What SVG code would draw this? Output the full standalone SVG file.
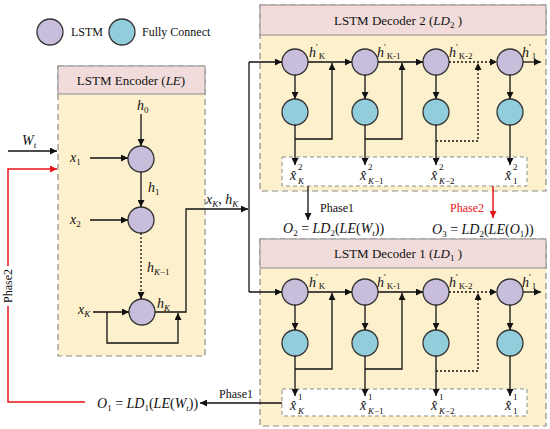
<svg xmlns="http://www.w3.org/2000/svg" width="550" height="429" viewBox="0 0 550 429">
<defs>
<marker id="a" viewBox="0 0 10 10" refX="10" refY="5" markerWidth="9" markerHeight="7" markerUnits="userSpaceOnUse" orient="auto"><path d="M0,0 L10,5 L0,10 z" fill="#111"/></marker>
<marker id="r" viewBox="0 0 10 10" refX="10" refY="5" markerWidth="9" markerHeight="7" markerUnits="userSpaceOnUse" orient="auto"><path d="M0,0 L10,5 L0,10 z" fill="#e8141a"/></marker>
<style>
text{font-family:"Liberation Serif","Times New Roman",serif;fill:#111}
.i{font-style:italic}
.s{font-size:9px}
.n{font-style:normal}
.hdr{font-size:13px}
.lg{font-size:12px}
.ph{font-size:12px}
.eq{font-size:14px}
.lb{font-size:14px}
.lstm{fill:#c8bedc;stroke:#333;stroke-width:1.3}
.fc{fill:#92cddc;stroke:#333;stroke-width:1.3}
.body{fill:#fdf0cc;stroke:#8c8c8c;stroke-width:1.2;stroke-dasharray:6,4}
.head{fill:#f2dcdb;stroke:#8c8c8c;stroke-width:1}
.out{fill:#fff;stroke:#8c8c8c;stroke-width:1;stroke-dasharray:4,3}
.ln{fill:none;stroke:#111;stroke-width:1.3}
.dt{fill:none;stroke:#111;stroke-width:1.3;stroke-dasharray:2,2}
.rd{fill:none;stroke:#e8141a;stroke-width:1.5}
</style>
</defs>

<g id="legend">
<circle class="lstm" cx="50" cy="32" r="13"/>
<text class="lg" x="71" y="36">LSTM</text>
<circle class="fc" cx="122" cy="32" r="13"/>
<text class="lg" x="142" y="36">Fully Connect</text>
</g>

<g id="encoder">
<rect class="body" x="58" y="66" width="147" height="290"/>
<rect class="head" x="58" y="66" width="147" height="28"/>
<text class="hdr" x="131" y="85" text-anchor="middle">LSTM Encoder (<tspan class="i">LE</tspan>)</text>
<circle class="lstm" cx="141" cy="159" r="13"/>
<circle class="lstm" cx="141" cy="220" r="13"/>
<circle class="lstm" cx="142" cy="312" r="13"/>
<text class="lb i" x="137" y="110">h<tspan class="s n" dy="3">0</tspan></text>
<text class="lb i" x="70" y="162">x<tspan class="s n" dy="3">1</tspan></text>
<text class="lb i" x="148" y="192">h<tspan class="s n" dy="3">1</tspan></text>
<text class="lb i" x="70" y="224">x<tspan class="s n" dy="3">2</tspan></text>
<text class="lb i" x="147" y="272">h<tspan class="s" dy="3">K</tspan><tspan class="s n">−1</tspan></text>
<text class="lb i" x="78" y="314">x<tspan class="s" dy="3">K</tspan></text>
<text class="lb i" x="157" y="308">h<tspan class="s" dy="3">K</tspan></text>
</g>

<g id="decoder2">
<rect class="body" x="260" y="5" width="286" height="186"/>
<rect class="head" x="260" y="5" width="286" height="30"/>
<text class="hdr" x="398" y="25" text-anchor="middle">LSTM Decoder 2 (<tspan class="i">LD</tspan><tspan class="s" dy="3">2</tspan><tspan dy="-3"> )</tspan></text>
<circle class="lstm" cx="295" cy="62" r="13"/>
<circle class="lstm" cx="365" cy="62" r="13"/>
<circle class="lstm" cx="436" cy="62" r="13"/>
<circle class="lstm" cx="510" cy="62" r="13"/>
<circle class="fc" cx="295" cy="112" r="13"/>
<circle class="fc" cx="365" cy="112" r="13"/>
<circle class="fc" cx="436" cy="112" r="13"/>
<circle class="fc" cx="510" cy="112" r="13"/>
<rect class="out" x="282" y="157" width="245" height="29"/>
<text class="lb i" x="309" y="57">h<tspan class="s n" dy="-7">'</tspan><tspan class="s n" dx="1" dy="9">K</tspan></text>
<text class="lb i" x="377" y="57">h<tspan class="s n" dy="-7">'</tspan><tspan class="s n" dx="1" dy="9">K-1</tspan></text>
<text class="lb i" x="449" y="57">h<tspan class="s n" dy="-7">'</tspan><tspan class="s n" dx="1" dy="9">K-2</tspan></text>
<text class="lb i" x="522" y="57">h<tspan class="s n" dy="-7">'</tspan><tspan class="s n" dx="1" dy="9">1</tspan></text>
<text class="lb i" x="290" y="180">x̂</text><text class="s" x="298" y="170">2</text><text class="s i" x="298" y="184">K</text>
<text class="lb i" x="360" y="180">x̂</text><text class="s" x="368" y="170">2</text><text class="s i" x="368" y="184">K<tspan class="n">−1</tspan></text>
<text class="lb i" x="431" y="180">x̂</text><text class="s" x="439" y="170">2</text><text class="s i" x="439" y="184">K<tspan class="n">−2</tspan></text>
<text class="lb i" x="505" y="180">x̂</text><text class="s" x="513" y="170">2</text><text class="s" x="513" y="184">1</text>
</g>

<g id="decoder1">
<rect class="body" x="260" y="239" width="286" height="187"/>
<rect class="head" x="260" y="239" width="286" height="29"/>
<text class="hdr" x="398" y="258" text-anchor="middle">LSTM Decoder 1 (<tspan class="i">LD</tspan><tspan class="s" dy="3">1</tspan><tspan dy="-3"> )</tspan></text>
<circle class="lstm" cx="295" cy="292" r="13"/>
<circle class="lstm" cx="365" cy="292" r="13"/>
<circle class="lstm" cx="436" cy="292" r="13"/>
<circle class="lstm" cx="510" cy="292" r="13"/>
<circle class="fc" cx="295" cy="343" r="13"/>
<circle class="fc" cx="365" cy="343" r="13"/>
<circle class="fc" cx="436" cy="343" r="13"/>
<circle class="fc" cx="510" cy="343" r="13"/>
<rect class="out" x="282" y="389" width="245" height="27"/>
<text class="lb i" x="309" y="287">h<tspan class="s n" dy="-7">'</tspan><tspan class="s n" dx="1" dy="9">K</tspan></text>
<text class="lb i" x="377" y="287">h<tspan class="s n" dy="-7">'</tspan><tspan class="s n" dx="1" dy="9">K-1</tspan></text>
<text class="lb i" x="449" y="287">h<tspan class="s n" dy="-7">'</tspan><tspan class="s n" dx="1" dy="9">K-2</tspan></text>
<text class="lb i" x="522" y="287">h<tspan class="s n" dy="-7">'</tspan><tspan class="s n" dx="1" dy="9">1</tspan></text>
<text class="lb i" x="290" y="410">x̂</text><text class="s" x="298" y="400">1</text><text class="s i" x="298" y="414">K</text>
<text class="lb i" x="360" y="410">x̂</text><text class="s" x="368" y="400">1</text><text class="s i" x="368" y="414">K<tspan class="n">−1</tspan></text>
<text class="lb i" x="431" y="410">x̂</text><text class="s" x="439" y="400">1</text><text class="s i" x="439" y="414">K<tspan class="n">−2</tspan></text>
<text class="lb i" x="505" y="410">x̂</text><text class="s" x="513" y="400">1</text><text class="s" x="513" y="414">1</text>
</g>

<g id="connectors">
<line class="ln" x1="8" y1="151" x2="57" y2="151" marker-end="url(#a)"/>
<text class="lb i" x="22" y="145">W<tspan class="s" dy="3">t</tspan></text>
<line class="ln" x1="141" y1="114" x2="141" y2="146" marker-end="url(#a)"/>
<line class="ln" x1="90" y1="158" x2="128" y2="158" marker-end="url(#a)"/>
<line class="ln" x1="141" y1="172" x2="141" y2="207" marker-end="url(#a)"/>
<line class="ln" x1="90" y1="220" x2="128" y2="220" marker-end="url(#a)"/>
<line class="dt" x1="141" y1="233" x2="141" y2="299" marker-end="url(#a)"/>
<line class="ln" x1="93" y1="312" x2="129" y2="312" marker-end="url(#a)"/>
<path class="ln" d="M107,312 V343 H178 V313" marker-end="url(#a)"/>
<path class="ln" d="M155,312 H186 V209 H248" marker-end="url(#a)"/>
<text class="lb i" x="206" y="204">x<tspan class="s" dy="3">K</tspan><tspan class="n" dy="-3">, </tspan>h<tspan class="s" dy="3">K</tspan></text>
<path class="ln" d="M249,62 V292"/>
<line class="ln" x1="249" y1="62" x2="282" y2="62" marker-end="url(#a)"/>
<line class="ln" x1="249" y1="292" x2="282" y2="292" marker-end="url(#a)"/>
<line class="ln" x1="308" y1="62" x2="352" y2="62" marker-end="url(#a)"/>
<line class="ln" x1="378" y1="62" x2="423" y2="62" marker-end="url(#a)"/>
<line class="dt" x1="449" y1="62" x2="497" y2="62" marker-end="url(#a)"/>
<line class="ln" x1="523" y1="62" x2="541" y2="62" marker-end="url(#a)"/>
<line class="ln" x1="295" y1="75" x2="295" y2="99" marker-end="url(#a)"/>
<line class="ln" x1="365" y1="75" x2="365" y2="99" marker-end="url(#a)"/>
<line class="ln" x1="436" y1="75" x2="436" y2="99" marker-end="url(#a)"/>
<line class="ln" x1="510" y1="75" x2="510" y2="99" marker-end="url(#a)"/>
<line class="ln" x1="295" y1="125" x2="295" y2="165" marker-end="url(#a)"/>
<line class="ln" x1="365" y1="125" x2="365" y2="165" marker-end="url(#a)"/>
<line class="ln" x1="436" y1="125" x2="436" y2="165" marker-end="url(#a)"/>
<line class="ln" x1="510" y1="125" x2="510" y2="165" marker-end="url(#a)"/>
<path class="ln" d="M295,139 H332 V63" marker-end="url(#a)"/>
<path class="ln" d="M365,139 H402 V63" marker-end="url(#a)"/>
<path class="dt" d="M436,141 H478 V63" marker-end="url(#a)"/>
<line class="ln" x1="308" y1="292" x2="352" y2="292" marker-end="url(#a)"/>
<line class="ln" x1="378" y1="292" x2="423" y2="292" marker-end="url(#a)"/>
<line class="dt" x1="449" y1="292" x2="497" y2="292" marker-end="url(#a)"/>
<line class="ln" x1="523" y1="292" x2="541" y2="292" marker-end="url(#a)"/>
<line class="ln" x1="295" y1="305" x2="295" y2="330" marker-end="url(#a)"/>
<line class="ln" x1="365" y1="305" x2="365" y2="330" marker-end="url(#a)"/>
<line class="ln" x1="436" y1="305" x2="436" y2="330" marker-end="url(#a)"/>
<line class="ln" x1="510" y1="305" x2="510" y2="330" marker-end="url(#a)"/>
<line class="ln" x1="295" y1="356" x2="295" y2="396" marker-end="url(#a)"/>
<line class="ln" x1="365" y1="356" x2="365" y2="396" marker-end="url(#a)"/>
<line class="ln" x1="436" y1="356" x2="436" y2="396" marker-end="url(#a)"/>
<line class="ln" x1="510" y1="356" x2="510" y2="396" marker-end="url(#a)"/>
<path class="ln" d="M295,369 H332 V293" marker-end="url(#a)"/>
<path class="ln" d="M365,369 H402 V293" marker-end="url(#a)"/>
<path class="dt" d="M436,371 H478 V293" marker-end="url(#a)"/>
<line class="ln" x1="308" y1="186" x2="308" y2="220" marker-end="url(#a)" stroke-width="1.6"/>
<text class="ph" x="320" y="212">Phase1</text>
<text class="eq" x="283" y="233"><tspan class="i">O</tspan><tspan class="s" dy="3">2</tspan><tspan dy="-3"> = </tspan><tspan class="i">LD</tspan><tspan class="s" dy="3">2</tspan><tspan dy="-3">(</tspan><tspan class="i">LE</tspan>(<tspan class="i">W</tspan><tspan class="s i" dy="3">t</tspan><tspan dy="-3">))</tspan></text>
<line class="rd" x1="493" y1="186" x2="493" y2="218" marker-end="url(#r)"/>
<text class="ph" x="450" y="212" style="fill:#e8141a">Phase2</text>
<text class="eq" x="432" y="234"><tspan class="i">O</tspan><tspan class="s" dy="3">3</tspan><tspan dy="-3"> = </tspan><tspan class="i">LD</tspan><tspan class="s" dy="3">2</tspan><tspan dy="-3">(</tspan><tspan class="i">LE</tspan>(<tspan class="i">O</tspan><tspan class="s" dy="3">1</tspan><tspan dy="-3">))</tspan></text>
<line class="ln" x1="282" y1="403" x2="200" y2="403" marker-end="url(#a)"/>
<text class="ph" x="219" y="398">Phase1</text>
<text class="eq" x="97" y="408"><tspan class="i">O</tspan><tspan class="s" dy="3">1</tspan><tspan dy="-3"> = </tspan><tspan class="i">LD</tspan><tspan class="s" dy="3">1</tspan><tspan dy="-3">(</tspan><tspan class="i">LE</tspan>(<tspan class="i">W</tspan><tspan class="s i" dy="3">t</tspan><tspan dy="-3">))</tspan></text>
<path class="rd" d="M85,402 H8 V169 H57" marker-end="url(#r)"/>
<rect x="2" y="266" width="13" height="40" fill="#fff"/>
<text class="ph" transform="translate(12,286) rotate(-90)" text-anchor="middle">Phase2</text>
</g>
</svg>
